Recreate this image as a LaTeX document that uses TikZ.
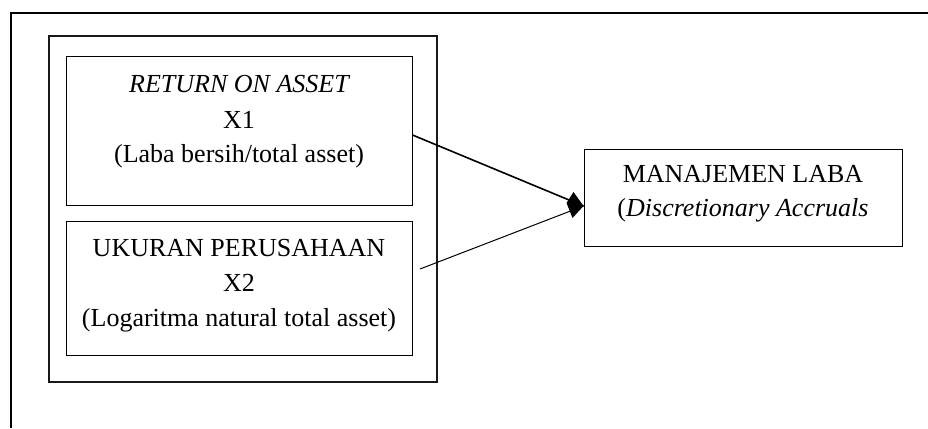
\documentclass[tikz,border=0pt]{standalone}
\usepackage{fontspec}
\setmainfont{Liberation Serif}
\tikzset{
  box/.style={draw=black, line width=1pt, rectangle, inner sep=0pt},
  bigbox/.style={draw=black!90, line width=2pt, rectangle, inner sep=0pt},
  txt/.style={anchor=base, inner sep=0pt, font=\fontsize{26}{34}\selectfont},
  link/.style={draw=black, line width=1.6pt},
  thin link/.style={draw=black, line width=1pt}
}
\begin{document}
\begin{tikzpicture}[x=1pt, y=-1pt]
\useasboundingbox (0,0) rectangle (928,428);
% outer frame (only top and left edges visible)
\draw[line width=2.2pt] (928,13) -- (11,13) -- (11,428);
% big box
\node[bigbox, minimum width=388pt, minimum height=346pt] (big) at (243,209) {};
% inner boxes
\node[box, minimum width=346pt, minimum height=148pt] (b1) at (239,131) {};
\node[box, minimum width=346pt, minimum height=134pt] (b2) at (239,288) {};
% right box
\node[box, minimum width=318pt, minimum height=97pt] (mj) at (743,197.5) {};
% texts box 1
\node[txt] (t11) at (239,92) {\itshape RETURN ON ASSET};
\node[txt] (t12) at (239,128) {X1};
\node[txt] (t13) at (239,162) {(Laba bersih/total asset)};
% texts box 2
\node[txt] (t21) at (239,256) {UKURAN PERUSAHAAN};
\node[txt] (t22) at (239,291) {X2};
\node[txt] (t23) at (239,326) {(Logaritma natural total asset)};
% texts right box
\node[txt] (t31) at (743,182) {MANAJEMEN LABA};
\node[txt] (t32) at (743,216) {(\textit{Discretionary Accruals}};
% connectors
\coordinate (s1) at (b1.east |- 0,135);
\coordinate (s2) at (420,269);
\coordinate (tip) at (mj.west |- 0,206);
\draw[link] (s1) -- (tip);
\draw[thin link] (s2) -- (tip);
\fill[black] (tip) -- ++(-10,-14) -- ++(-7,11) -- ++(6,15) -- cycle;
\end{tikzpicture}
\end{document}
